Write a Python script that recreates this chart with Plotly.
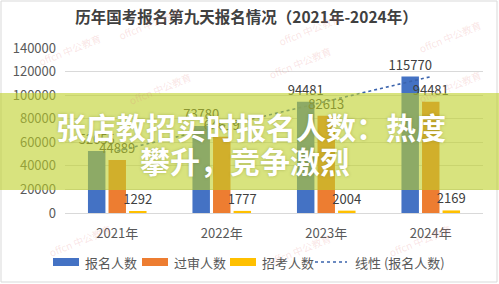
import numpy as np
import plotly.graph_objects as go

# ---- data ----
years = ["2021年", "2022年", "2023年", "2024年"]
applicants = [52655, 73780, 94481, 115770]   # 报名人数
approved = [44889, 64619, 82613, 94481]      # 过审人数
positions = [1292, 1777, 2004, 2169]         # 招考人数
y_ticks = [0, 20000, 40000, 60000, 80000, 100000, 120000, 140000]
series_names = ["报名人数", "过审人数", "招考人数"]
trend_name = "线性 (报名人数)"

# ---- canvas geometry ----
W, H = 499, 284
ML, MR, MT, MB = 65, 16, 48, 71
PW, PH = W - ML - MR, H - MT - MB


def px_x(x):
    return (x - ML) / PW


def px_y(y):
    return (H - MB - y) / PH


FONT = "Noto Sans CJK SC"
BLUE, ORANGE, GOLD = "#4472C4", "#ED7D31", "#FFC000"
TREND = "#3B64AD"
LABEL = "#404040"
colors = [BLUE, ORANGE, GOLD]

# linear trend of applicants over the four years
idx = np.arange(1, len(years) + 1)
k, b = np.polyfit(idx, applicants, 1)
trend = k * idx + b

fig = go.Figure()
for name, vals, col in zip(series_names, [applicants, approved, positions], colors):
    fig.add_trace(go.Bar(
        x=years, y=vals, name=name, marker_color=col, marker_line_width=0,
        text=[str(v) for v in vals], textposition="outside",
        textfont=dict(family=FONT, size=13, color=LABEL),
        constraintext="none", cliponaxis=False,
    ))

fig.add_trace(go.Scatter(
    x=years, y=trend, mode="lines", name=trend_name,
    line=dict(color=TREND, width=1.6, dash="dot"),
))

# soft background watermarks
marks = [(150, 24), (310, 30), (450, 36), (70, 50), (160, 88), (300, 62),
         (450, 86), (80, 240), (300, 250), (420, 240)]
for (mx, my) in marks:
    fig.add_annotation(
        x=px_x(mx), y=px_y(my), xref="paper", yref="paper",
        xanchor="center", yanchor="middle",
        text="offcn 中公教育", showarrow=False, textangle=-22,
        font=dict(family=FONT, size=10, color="rgba(225,120,120,0.20)"),
    )

# legend row drawn as keys + labels
LEG_Y = 262
key_x = [53, 142, 230, 315]     # left edge of each key
key_w = [26, 26, 26, 32]
for i, name in enumerate(series_names + [trend_name]):
    x0 = key_x[i]
    x1 = x0 + key_w[i]
    if i < 3:
        fig.add_shape(
            type="rect", xref="paper", yref="paper",
            x0=px_x(x0), x1=px_x(x1), y0=px_y(LEG_Y + 4), y1=px_y(LEG_Y - 4),
            fillcolor=colors[i], line_width=0,
        )
        tx = x1 + 4
    else:
        fig.add_shape(
            type="line", xref="paper", yref="paper",
            x0=px_x(x0), x1=px_x(x1), y0=px_y(LEG_Y), y1=px_y(LEG_Y),
            line=dict(color=TREND, width=1.6, dash="dot"),
        )
        tx = x1 + 6
    fig.add_annotation(
        x=px_x(tx), y=px_y(LEG_Y), xref="paper", yref="paper",
        xanchor="left", yanchor="middle", text=name, showarrow=False,
        font=dict(family=FONT, size=13, color="#595959"),
    )

# translucent headline band
fig.add_shape(
    type="rect", xref="paper", yref="paper", layer="above",
    x0=px_x(0), x1=px_x(W), y0=px_y(190), y1=px_y(93),
    fillcolor="rgba(190,208,40,0.60)", line_width=0,
)
# chart frame
fig.add_shape(
    type="rect", xref="paper", yref="paper", layer="below",
    x0=px_x(1), x1=px_x(497), y0=px_y(282), y1=px_y(1),
    line=dict(color="#D9D9D9", width=1), fillcolor="rgba(0,0,0,0)",
)

headline = [("张店教招实时报名人数：热度", 251, 126),
            ("攀升，竞争激烈", 245, 160)]
for txt, hx, hy in headline:
    fig.add_annotation(
        x=px_x(hx), y=px_y(hy), xref="paper", yref="paper",
        xanchor="center", yanchor="middle",
        text=f"<b>{txt}</b>", showarrow=False,
        font=dict(family=FONT, size=30, color="white",
                  shadow="0px 0px 3px rgba(90,100,20,0.35)"),
    )

fig.update_layout(
    width=W, height=H,
    margin=dict(l=ML, r=MR, t=MT, b=MB, autoexpand=False),
    paper_bgcolor="white", plot_bgcolor="white",
    barmode="group", bargap=0.41, bargroupgap=0.15,
    title=dict(
        text="<b>历年国考报名第九天报名情况（2021年-2024年）</b>",
        x=0.494, xanchor="center", y=1 - 18 / H, yanchor="middle",
        font=dict(family=FONT, size=15.5, color="#404040"),
    ),
    font=dict(family=FONT, color="#595959"),
    showlegend=False,
    xaxis=dict(
        showgrid=False, showline=True, linecolor="#D9D9D9", linewidth=1,
        ticks="", tickfont=dict(family=FONT, size=13, color="#595959"),
        ticklabelstandoff=8,
    ),
    yaxis=dict(
        range=[0, 140000], tickvals=y_ticks,
        ticktext=[str(v) for v in y_ticks],
        showgrid=True, gridcolor="#D9D9D9", gridwidth=1,
        zeroline=False, showline=False, ticks="",
        tickfont=dict(family=FONT, size=13, color="#595959"),
        ticklabelstandoff=8,
    ),
)

fig.write_html("out.html")
